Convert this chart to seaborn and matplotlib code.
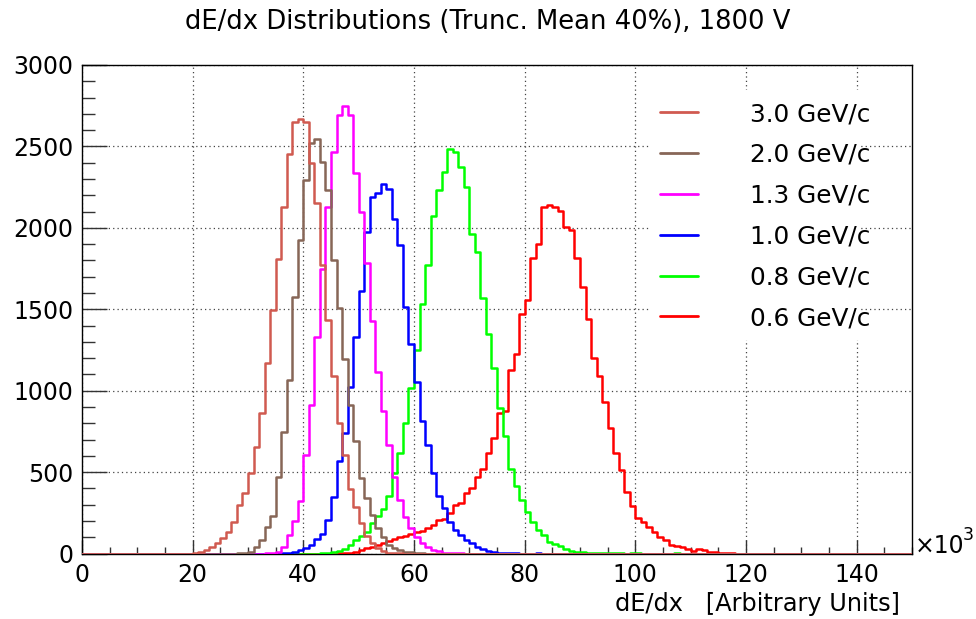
import numpy as np
import pandas as pd
import matplotlib
matplotlib.use("Agg")
import matplotlib.pyplot as plt
import seaborn as sns
from matplotlib.lines import Line2D
from matplotlib.patches import Rectangle
from matplotlib.ticker import MultipleLocator

# ---------------- data (bin width = 1 x10^3 units, counts per bin) ----------------
labels = ["3.0 GeV/c", "2.0 GeV/c", "1.3 GeV/c", "1.0 GeV/c", "0.8 GeV/c", "0.6 GeV/c"]
colors = ["#d05a50", "#876657", "#ff00ff", "#0000ff", "#00ff00", "#ff0000"]

first_bin_30 = 20
counts_30 = [2, 8, 20, 40, 62, 97, 134, 195, 298, 370, 492, 656, 861, 1168, 1493, 1810,
             2130, 2456, 2652, 2667, 2652, 2396, 2151, 1772, 1434, 1090, 800, 605, 395,
             284, 186, 110, 64, 32, 14, 6, 3, 1]

first_bin_20 = 28
counts_20 = [2, 4, 12, 42, 83, 165, 230, 472, 748, 1066, 1577, 1926, 2294, 2520, 2544,
             2406, 2233, 1803, 1506, 1195, 915, 690, 462, 339, 236, 155, 103, 52, 35, 20,
             12, 8, 4, 2]

first_bin_13 = 33
counts_13 = [2, 4, 11, 42, 114, 200, 320, 605, 910, 1330, 1745, 2130, 2463, 2693, 2749,
             2693, 2338, 2095, 1783, 1428, 1112, 876, 666, 467, 329, 226, 155, 100, 62,
             38, 24, 14, 6, 3, 2, 1]

first_bin_10 = 35
counts_10 = [1, 3, 6, 12, 20, 32, 55, 92, 120, 203, 350, 565, 742, 1024, 1332, 1610,
             1976, 2190, 2212, 2270, 2240, 2055, 1892, 1511, 1285, 1055, 815, 666, 492,
             355, 278, 195, 144, 114, 83, 63, 42, 26, 18, 8, 4, 3, 2, 1, 0, 0, 0, 4]

first_bin_08 = 43
counts_08 = [2, 4, 8, 15, 30, 50, 80, 110, 135, 185, 228, 272, 355, 492, 615, 800, 1015,
             1250, 1530, 1772, 2070, 2233, 2345, 2482, 2465, 2374, 2253, 1960, 1853, 1567,
             1350, 1137, 895, 723, 520, 415, 330, 257, 196, 145, 114, 73, 60, 44, 30, 15,
             10, 8, 6, 5, 3, 2, 2, 1, 1, 0, 2, 2, 0, 0, 0, 0, 0, 0, 1]

first_bin_06 = 46
counts_06 = [2, 4, 5, 10, 20, 32, 42, 55, 65, 75, 87, 100, 110, 120, 130, 140, 155, 175,
             206, 210, 249, 298, 313, 370, 400, 467, 518, 615, 712, 863, 876, 1127, 1227,
             1468, 1554, 1813, 1902, 2130, 2140, 2125, 2101, 2004, 1984, 1815, 1635, 1440,
             1200, 1090, 932, 769, 620, 510, 380, 290, 215, 195, 165, 130, 100, 80, 55, 45,
             38, 28, 18, 28, 22, 12, 10, 5, 5, 4]

x_min, x_max, bin_width = 0, 150, 1
series = [(first_bin_30, counts_30), (first_bin_20, counts_20), (first_bin_13, counts_13),
          (first_bin_10, counts_10), (first_bin_08, counts_08), (first_bin_06, counts_06)]

edges = np.arange(x_min, x_max + bin_width, bin_width)
centers = edges[:-1] + bin_width / 2

frames = []
for lab, (first, cnts) in zip(labels, series):
    w = np.zeros(len(centers))
    w[first:first + len(cnts)] = cnts
    frames.append(pd.DataFrame({"dedx": centers, "count": w, "p": lab}))
df = pd.concat(frames, ignore_index=True)

# ---------------- figure ----------------
sns.set_theme(style="white")
plt.rcParams["font.family"] = ["DejaVu Sans"]

W, H = 976, 619
fig = plt.figure(figsize=(W / 100, H / 100), dpi=100)
L, R, T, B = 82, 912, 65, 553.5
ax = fig.add_axes([L / W, 1 - B / H, (R - L) / W, (B - T) / H])

# draw so that 3.0 GeV/c ends on top
for lab, col in list(zip(labels, colors))[::-1]:
    sub = df[df["p"] == lab]
    sns.histplot(data=sub, x="dedx", weights="count", binwidth=bin_width,
                 binrange=(x_min, x_max), element="step",
                 fill=False, color=col, linewidth=1.8, ax=ax, zorder=3)

ax.set_xlim(x_min, x_max)
ax.set_ylim(0, 3000)
ax.xaxis.set_major_locator(MultipleLocator(20))
ax.xaxis.set_minor_locator(MultipleLocator(5))
ax.yaxis.set_major_locator(MultipleLocator(500))
ax.yaxis.set_minor_locator(MultipleLocator(100))
ax.tick_params(axis="x", which="major", direction="in", length=10, width=1, color="#333333",
               labelsize=17, pad=7, bottom=True, top=False, labelcolor="black")
ax.tick_params(axis="x", which="minor", direction="in", length=5, width=1, color="#333333",
               bottom=True, top=False)
ax.tick_params(axis="y", which="major", direction="in", length=18, width=1, color="#333333",
               labelsize=17, pad=6, left=True, right=False, labelcolor="black")
ax.tick_params(axis="y", which="minor", direction="in", length=9, width=1, color="#333333",
               left=True, right=False)
ax.grid(True, which="major", linestyle=(0, (1, 2.5)), color="#444444", linewidth=0.9)
ax.set_axisbelow(True)
for s in ax.spines.values():
    s.set_color("black")
    s.set_linewidth(1.0)
ax.set_xlabel("")
ax.set_ylabel("")

# white legend pad (hides the grid behind the legend, as in the original)
pad = Rectangle((650 / W, 1 - 340 / H), 210 / W, 250 / H, transform=fig.transFigure,
                facecolor="white", edgecolor="none", zorder=1)
ax.add_patch(pad)

fig.text(0.5, 1 - 22 / H, "dE/dx Distributions (Trunc. Mean 40%), 1800 V",
         ha="center", va="center", fontsize=18.6, color="black")
fig.text(900 / W, 1 - 604 / H, "dE/dx   [Arbitrary Units]", ha="right", va="center",
         fontsize=17.3, color="black")
fig.text(915 / W, 1 - 546 / H, "×10", ha="left", va="center", fontsize=17, color="black")
fig.text(963 / W, 1 - 535 / H, "3", ha="left", va="center", fontsize=12.5, color="black")

handles = [Line2D([0], [0], color=c, lw=2.0) for c in colors]
leg = ax.legend(handles, labels, loc="upper left",
                bbox_to_anchor=(660 / W, 1 - 102 / H), bbox_transform=fig.transFigure,
                fontsize=17.8, frameon=False, handlelength=1.53,
                handletextpad=2.1, labelspacing=0.68, borderpad=0, borderaxespad=0)
for t in leg.get_texts():
    t.set_color("black")
leg.set_zorder(5)

fig.savefig("out.png", dpi=100, facecolor="white")
